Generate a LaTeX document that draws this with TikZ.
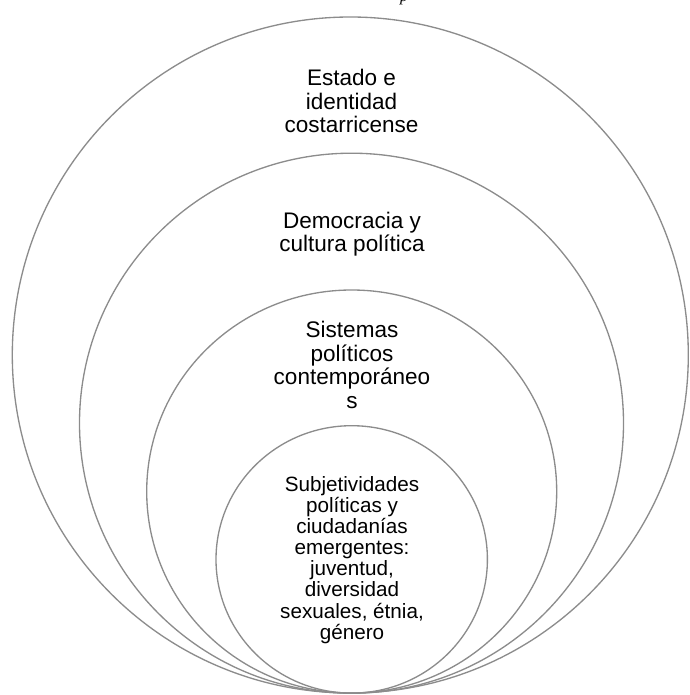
\documentclass[tikz,border=0pt]{standalone}
\usepackage{fontspec}
\setmainfont{Liberation Sans}
\newfontfamily\capserif{Liberation Serif}
\definecolor{ringgray}{RGB}{140,140,140}
\begin{document}
\begin{tikzpicture}[x=0.75pt,y=-0.75pt,
  ring/.style={draw=ringgray,line width=1pt},
  bigtext/.style={align=center,inner sep=0pt,font=\fontsize{16.9pt}{17.6pt}\selectfont},
  smalltext/.style={align=center,inner sep=0pt,font=\fontsize{15.5pt}{15.8pt}\selectfont}]
\useasboundingbox (0,0) rectangle (689,695);
% rings, all touching at the bottom
\draw[ring] (350.3,355) ellipse [x radius={338*0.75pt}, y radius={338*0.75pt}];
\draw[ring] (351.5,423.2) ellipse [x radius={272*0.75pt}, y radius={270*0.75pt}];
\draw[ring] (351.7,491.5) ellipse [x radius={205*0.75pt}, y radius={201.5*0.75pt}];
\draw[ring] (351.7,559.4) ellipse [x radius={135.7*0.75pt}, y radius={133.7*0.75pt}];
% labels
\node[bigtext] (estado) at (351.5,101) {Estado e\\identidad\\costarricense};
\node[bigtext] (demo) at (352,234) {Democracia y\\cultura política};
\node[bigtext] (sist) at (352,365) {Sistemas\\políticos\\contemporáneo\\s};
\node[smalltext] (subj) at (352,560) {Subjetividades\\políticas y\\ciudadanías\\emergentes:\\juventud,\\diversidad\\sexuales, étnia,\\género};
% cut-off caption fragment at the top
\node[anchor=base,inner sep=0pt,font=\capserif\itshape\fontsize{12pt}{14pt}\selectfont] (frag) at (404,1.5) {p};
\end{tikzpicture}
\end{document}
